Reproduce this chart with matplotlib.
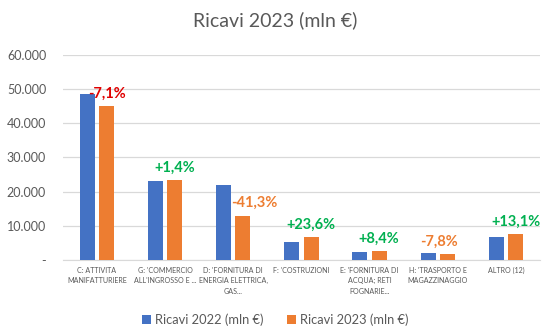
import matplotlib.pyplot as plt
import numpy as np
from matplotlib.ticker import FuncFormatter

plt.rcParams['font.family'] = ['Lato', 'DejaVu Sans']

categorie = [
    "C: ATTIVITA\nMANIFATTURIERE",
    "G: 'COMMERCIO\nALL'INGROSSO E ...",
    "D: 'FORNITURA DI\nENERGIA ELETTRICA,\nGAS...",
    "F: 'COSTRUZIONI",
    "E: 'FORNITURA DI\nACQUA; RETI\nFOGNARIE...",
    "H: 'TRASPORTO E\nMAGAZZINAGGIO",
    "ALTRO (12)",
]
ricavi_2022 = [48500, 23100, 22000, 5400, 2400, 1900, 6700]
ricavi_2023 = [45050, 23420, 12910, 6680, 2600, 1750, 7580]
variazioni = [-7.1, 1.4, -41.3, 23.6, 8.4, -7.8, 13.1]
colori_var = ['#e00000', '#00b050', '#ed7d31', '#00b050', '#00b050', '#ed7d31', '#00b050']
# piccoli spostamenti orizzontali delle etichette (punti)
dx_etichette = [0, 0, 8, 0, 0, -6, 0]

blu = '#4472c4'
arancio = '#ed7d31'
grigio = '#595959'

fig = plt.figure(figsize=(5.51, 3.35), dpi=100)
ax = fig.add_axes([0.114, 0.224, 0.866, 0.612])

x = np.arange(len(categorie))
w = 0.22
off = 0.142
b1 = ax.bar(x - off, ricavi_2022, w, color=blu, label='Ricavi 2022 (mln €)', zorder=3)
b2 = ax.bar(x + off, ricavi_2023, w, color=arancio, label='Ricavi 2023 (mln €)', zorder=3)

for bar, v, c, dx in zip(b2, variazioni, colori_var, dx_etichette):
    testo = f'{v:+.1f}%'.replace('.', ',')
    ax.annotate(testo, (bar.get_x() + bar.get_width() / 2, bar.get_height()),
                xytext=(dx, 4), textcoords='offset points', ha='center', va='bottom',
                fontsize=10.5, fontweight='bold', color=c)

ax.set_ylim(0, 60000)
ax.set_xlim(-0.5, len(categorie) - 0.5)
ax.set_yticks(range(0, 60001, 10000))
ax.yaxis.set_major_formatter(FuncFormatter(
    lambda v, p: '-' if v == 0 else f'{int(v):,}'.replace(',', '.')))
ax.set_xticks(x)
ax.set_xticklabels(categorie, fontsize=5.1, color=grigio, linespacing=1.55)
ax.tick_params(axis='y', labelsize=9, colors=grigio, length=0, pad=12)
ax.tick_params(axis='x', length=0, pad=5)
ax.grid(axis='y', color='#d9d9d9', linewidth=0.9, zorder=0)
ax.spines[['top', 'right', 'left']].set_visible(False)
ax.spines['bottom'].set_color('#d9d9d9')

fig.suptitle('Ricavi 2023 (mln €)', y=0.965, fontsize=14, color=grigio)
fig.legend(loc='center', bbox_to_anchor=(0.5, 0.045), ncol=2, frameon=False,
           fontsize=9.3, handlelength=0.7, handleheight=0.7, handletextpad=0.3,
           columnspacing=1.8, labelcolor=grigio)

fig.savefig('out.png', dpi=100)
